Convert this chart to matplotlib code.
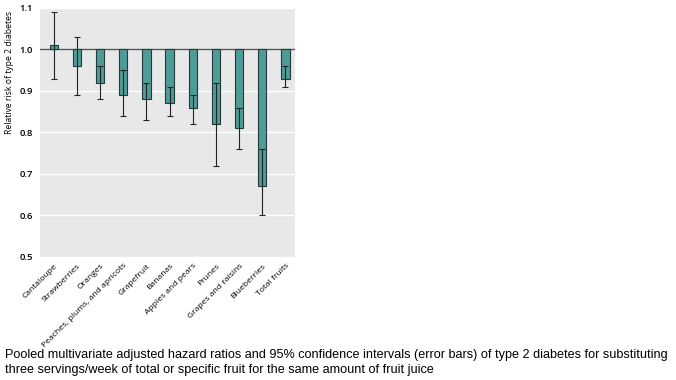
import matplotlib
matplotlib.use("Agg")
import matplotlib.pyplot as plt
import numpy as np

fruits = [
    "Cantaloupe", "Strawberries", "Oranges", "Peaches, plums, and apricots",
    "Grapefruit", "Bananas", "Apples and pears", "Prunes",
    "Grapes and raisins", "Blueberries", "Total fruits",
]
risk = [1.01, 0.96, 0.92, 0.89, 0.88, 0.87, 0.86, 0.82, 0.81, 0.67, 0.93]
ci_low = [0.93, 0.89, 0.88, 0.84, 0.83, 0.84, 0.82, 0.72, 0.76, 0.60, 0.91]
ci_high = [1.09, 1.03, 0.96, 0.95, 0.92, 0.91, 0.89, 0.92, 0.86, 0.76, 0.96]
yticks = [0.5, 0.6, 0.7, 0.8, 0.9, 1.0, 1.1]

caption = ("Pooled multivariate adjusted hazard ratios and 95% confidence intervals (error bars) "
           "of type 2 diabetes for substituting\nthree servings/week of total or specific fruit "
           "for the same amount of fruit juice")

fig = plt.figure(figsize=(6.76, 3.8), dpi=100)
ax = fig.add_axes([0.059, 0.324, 0.377, 0.655])
ax.set_facecolor("#e8e8e8")

x = np.arange(len(fruits))
risk = np.array(risk)
err = np.array([risk - np.array(ci_low), np.array(ci_high) - risk])

ax.bar(x, risk - 1.0, bottom=1.0, width=0.36, color="#4f9b97",
       edgecolor="#1f3b3a", linewidth=0.8, zorder=3)
ax.errorbar(x, risk, yerr=err, fmt="none", ecolor="#222222",
            elinewidth=0.8, capsize=2, capthick=0.8, zorder=4)
ax.axhline(1.0, color="#555555", linewidth=1.0, zorder=2)

ax.set_ylim(0.5, 1.1)
ax.set_xlim(-0.6, len(fruits) - 0.6)
ax.set_yticks(yticks)
ax.set_yticklabels([f"{v:.1f}" for v in yticks], fontsize=6.8, fontweight="semibold",
                   family="Open Sans")
ax.set_xticks(x)
ax.set_xticklabels(fruits, rotation=45, ha="right", rotation_mode="anchor",
                   fontsize=6.1, family="Open Sans")
ax.tick_params(axis="x", length=0, pad=4)
ax.tick_params(axis="y", length=0, pad=5)
ax.yaxis.grid(True, color="white", linewidth=1.0, zorder=1)
ax.set_axisbelow(True)
for s in ax.spines.values():
    s.set_visible(False)
ax.set_ylabel("Relative risk of type 2 diabetes", fontsize=6.2, family="Open Sans",
              loc="top")
ax.yaxis.set_label_coords(-0.1, 0.99)

fig.text(0.007, 0.082, caption, fontsize=9.1, family="Liberation Sans",
         ha="left", va="top", linespacing=1.4)

fig.savefig("out.png", dpi=100)
